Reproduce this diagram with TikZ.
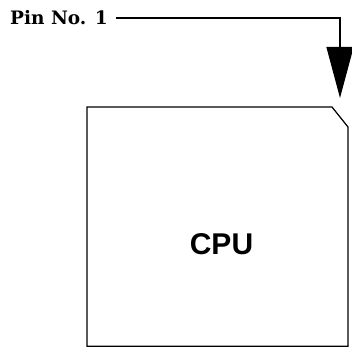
\documentclass[tikz,border=0pt]{standalone}
\usepackage{fontspec}
\usepackage{tikz}
\usetikzlibrary{arrows.meta,positioning,calc}
\newfontfamily\pinfont{DejaVu Serif Bold}
\newfontfamily\chipfont{Liberation Sans Bold}

\begin{document}
\begin{tikzpicture}[
        x=1pt,
        y=1pt,
        every node/.style={inner sep=0pt, align=center},
        pinlabel/.style={font=\pinfont\fontsize{18.5}{22}\selectfont},
        chiplabel/.style={font=\chipfont\fontsize{30}{36}\selectfont},
        outline/.style={draw, line width=1.2pt, line join=miter},
        pointer/.style={line width=1.2pt, -{Triangle[length=51pt, width=27pt]}}
    ]
        \useasboundingbox (0,0) rectangle (352,347);
        % chip outline with the cut corner
        \coordinate (tl) at (87,240);
        \coordinate (cut1) at (332,240);
        \coordinate (cut2) at (348,220);
        \coordinate (br) at (348,0.8);
        \draw[outline] (87,0.8) -- (tl) -- (cut1) -- (cut2) -- (br) -- cycle;
        \node[chiplabel] (cpu) at (221.5,103) {CPU};

        \node[pinlabel, anchor=base west] (pin) at (10,322) {Pin No. 1};
        \coordinate (tip) at (340,249);
        \draw[pointer] ([xshift=8pt]pin.east) -| (tip);
    \end{tikzpicture}
\end{document}
